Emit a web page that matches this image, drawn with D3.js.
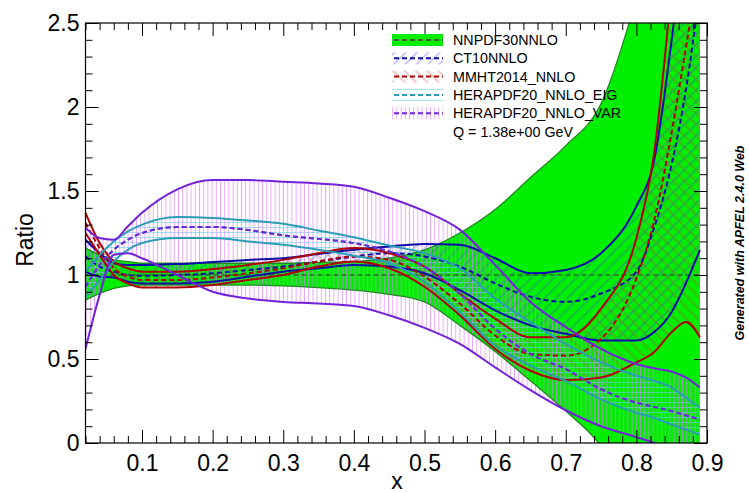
<!DOCTYPE html>
<html><head><meta charset="utf-8">
<script src="https://cdn.jsdelivr.net/npm/d3@7"></script>
<style>body{margin:0;background:#fff}svg{display:block}text{font-family:"Liberation Sans",Arial,Helvetica,sans-serif}</style>
</head><body><svg id="c" width="749" height="493"></svg>
<script>
// ---------------- data ----------------
const xs       = [0.02,0.04,0.06,0.08,0.1,0.15,0.2,0.25,0.3,0.35,0.4,0.45,0.5,0.55,0.6,0.65,0.7,0.75,0.8,0.825,0.85,0.87,0.89];
const nnpdfUp  = [1.16,1.12,1.09,1.08,1.07,1.07,1.07,1.07,1.07,1.075,1.08,1.10,1.15,1.25,1.39,1.58,1.77,2.02,2.65,3.05,3.6,4.0,4.5];
const nnpdfCen = [1,1,1,1,1,1,1,1,1,1,1,1,1,1,1,1,1,1,1,1,1,1,1];
const nnpdfLo  = [0.85,0.89,0.92,0.935,0.94,0.94,0.94,0.94,0.935,0.925,0.91,0.885,0.84,0.70,0.545,0.37,0.19,-0.02,-0.4,-0.6,-0.8,-1.0,-1.2];
const ct10Up   = [1.21,1.13,1.07,1.06,1.06,1.065,1.077,1.09,1.10,1.125,1.15,1.17,1.185,1.18,1.10,1.01,1.03,1.13,1.41,1.68,2.4,3.1,3.8];
const ct10Cen  = [1.11,1.05,1.02,1.0,0.995,1.0,1.01,1.03,1.05,1.08,1.11,1.13,1.11,1.05,0.95,0.87,0.84,0.89,1.02,1.28,1.66,2.1,2.7];
const ct10Lo   = [1.02,0.99,0.985,0.96,0.95,0.95,0.96,0.99,1.02,1.04,1.06,1.05,1.01,0.91,0.79,0.70,0.65,0.61,0.61,0.66,0.78,0.95,1.15];
const mmhtUp   = [1.37,1.19,1.08,1.04,1.02,1.02,1.035,1.06,1.09,1.13,1.16,1.13,1.05,0.89,0.74,0.63,0.63,0.80,1.22,1.72,2.7,3.5,4.3];
const mmhtCen  = [1.31,1.16,1.04,0.99,0.97,0.97,0.985,1.01,1.04,1.08,1.11,1.09,0.99,0.83,0.64,0.53,0.52,0.62,0.98,1.32,1.85,2.35,2.85];
const mmhtLo   = [1.25,1.12,1.0,0.95,0.925,0.925,0.94,0.97,1.0,1.05,1.08,1.04,0.93,0.76,0.56,0.43,0.375,0.39,0.48,0.54,0.66,0.72,0.63];
const eigUp    = [1.02,1.12,1.20,1.26,1.30,1.345,1.34,1.325,1.305,1.265,1.225,1.175,1.13,1.04,0.86,0.72,0.59,0.48,0.40,0.37,0.33,0.27,0.21];
const heraCen  = [0.93,1.06,1.15,1.21,1.25,1.285,1.286,1.268,1.236,1.215,1.19,1.14,1.05,0.89,0.68,0.53,0.44,0.32,0.24,0.215,0.19,0.165,0.14];
const eigLo    = [0.87,0.97,1.08,1.15,1.19,1.22,1.22,1.20,1.18,1.15,1.115,1.07,0.96,0.78,0.58,0.46,0.37,0.26,0.18,0.15,0.11,0.08,0.05];
const varUp    = [1.28,1.22,1.21,1.29,1.37,1.51,1.565,1.565,1.555,1.545,1.525,1.46,1.38,1.27,1.06,0.84,0.69,0.56,0.47,0.445,0.425,0.39,0.33];
const varLo    = [0.56,0.88,1.12,1.13,1.10,1.0,0.90,0.86,0.84,0.83,0.815,0.76,0.685,0.59,0.45,0.315,0.195,0.10,0.035,0.0,-0.04,-0.07,-0.1];

const setNames   = ["NNPDF30NNLO","CT10NNLO","MMHT2014_NNLO","HERAPDF20_NNLO_EIG","HERAPDF20_NNLO_VAR"];
const scaleLabel = "Q = 1.38e+00 GeV";
const xMajor     = [0.1,0.2,0.3,0.4,0.5,0.6,0.7,0.8,0.9];
const xMinor     = [0.02,0.04,0.06,0.08,0.12,0.14,0.16,0.18,0.22,0.24,0.26,0.28,0.32,0.34,0.36,0.38,0.42,0.44,0.46,0.48,0.52,0.54,0.56,0.58,0.62,0.64,0.66,0.68,0.72,0.74,0.76,0.78,0.82,0.84,0.86,0.88];
const yMajor     = [0,0.5,1,1.5,2,2.5];
const yMinor     = [0.1,0.2,0.3,0.4,0.6,0.7,0.8,0.9,1.1,1.2,1.3,1.4,1.6,1.7,1.8,1.9,2.1,2.2,2.3,2.4];

// ---------------- layout ----------------
const M = {l:85.5, r:707, t:23, b:443};
const x = d3.scaleLinear().domain([0.02,0.9]).range([M.l,M.r]);
const y = d3.scaleLinear().domain([0,2.5]).range([M.b,M.t]);
const svg = d3.select("#c");
const defs = svg.append("defs");
defs.append("clipPath").attr("id","clip").append("rect")
  .attr("x",M.l).attr("y",M.t).attr("width",M.r-M.l).attr("height",M.b-M.t);

function hatch(id, angle, sp, color, op, sw){
  const p = defs.append("pattern").attr("id",id).attr("patternUnits","userSpaceOnUse")
    .attr("width",sp).attr("height",sp).attr("patternTransform",`rotate(${angle})`);
  p.append("line").attr("x1",sp/2).attr("y1",-1).attr("x2",sp/2).attr("y2",sp+1)
    .attr("stroke",color).attr("stroke-width",sw).attr("stroke-opacity",op);
}
hatch("hCT",45,8,"#3a4ee0",0.6,1);
hatch("hMM",-45,8,"#d23a3a",0.55,1);
hatch("hEIG",90,5,"#5fd3e8",0.6,1);
hatch("hVAR",0,4.2,"#d77cff",0.65,1);

const sets = [
  {name:setNames[0], up:nnpdfUp, cen:nnpdfCen, lo:nnpdfLo, line:"#1f8a1f", cenCol:"#2d6b2d", fill:"#00ee00", edgeW:1.3},
  {name:setNames[1], up:ct10Up, cen:ct10Cen, lo:ct10Lo, line:"#0c0ca8", cenCol:"#0c0ca8", fill:"url(#hCT)", edgeW:2},
  {name:setNames[2], up:mmhtUp, cen:mmhtCen, lo:mmhtLo, line:"#b00000", cenCol:"#b00000", fill:"url(#hMM)", edgeW:2},
  {name:setNames[3], up:eigUp, cen:heraCen, lo:eigLo, line:"#2b9db5", cenCol:"#2b9db5", fill:"url(#hEIG)", edgeW:2},
  {name:setNames[4], up:varUp, cen:heraCen, lo:varLo, line:"#7421dc", cenCol:"#7421dc", fill:"url(#hVAR)", edgeW:2}
];

const plot = svg.append("g").attr("clip-path","url(#clip)");
const curve = d3.curveMonotoneX;
sets.forEach(s=>{
  const area = d3.area().curve(curve).x((d,i)=>x(xs[i])).y0((d,i)=>y(s.lo[i])).y1((d,i)=>y(s.up[i]));
  plot.append("path").datum(xs).attr("d",area).attr("fill",s.fill).attr("stroke","none");
});
sets.forEach(s=>{
  const ln = arr => d3.line().curve(curve).x((d,i)=>x(xs[i])).y((d,i)=>y(arr[i]))(xs);
  plot.append("path").attr("d",ln(s.up)).attr("fill","none").attr("stroke",s.line).attr("stroke-width",s.edgeW);
  plot.append("path").attr("d",ln(s.lo)).attr("fill","none").attr("stroke",s.line).attr("stroke-width",s.edgeW);
  plot.append("path").attr("d",ln(s.cen)).attr("fill","none").attr("stroke",s.cenCol).attr("stroke-width",2)
    .attr("stroke-dasharray","5,3").attr("stroke-opacity", s===sets[0]?0.75:1);
});

// ---------------- axes ----------------
function styleAxis(g){ g.select(".domain").remove(); g.selectAll("line").attr("stroke","#000").attr("stroke-width",1); }
const fmt = d => d===0?"0":String(d);
svg.append("g").attr("transform",`translate(0,${M.b})`)
  .call(d3.axisBottom(x).tickValues(xMajor).tickSize(-13).tickPadding(12).tickFormat(fmt)).call(styleAxis)
  .selectAll("text").attr("font-size",23).attr("fill","#000");
svg.append("g").attr("transform",`translate(0,${M.b})`)
  .call(d3.axisBottom(x).tickValues(xMinor).tickSize(-7).tickFormat("")).call(styleAxis);
svg.append("g").attr("transform",`translate(0,${M.t})`)
  .call(d3.axisTop(x).tickValues(xMajor).tickSize(-13).tickFormat("")).call(styleAxis);
svg.append("g").attr("transform",`translate(0,${M.t})`)
  .call(d3.axisTop(x).tickValues(xMinor).tickSize(-7).tickFormat("")).call(styleAxis);
svg.append("g").attr("transform",`translate(${M.l},0)`)
  .call(d3.axisLeft(y).tickValues(yMajor).tickSize(-13).tickPadding(6).tickFormat(fmt)).call(styleAxis)
  .selectAll("text").attr("font-size",23).attr("fill","#000");
svg.append("g").attr("transform",`translate(${M.l},0)`)
  .call(d3.axisLeft(y).tickValues(yMinor).tickSize(-7).tickFormat("")).call(styleAxis);
svg.append("g").attr("transform",`translate(${M.r},0)`)
  .call(d3.axisRight(y).tickValues(yMajor).tickSize(-13).tickFormat("")).call(styleAxis);
svg.append("g").attr("transform",`translate(${M.r},0)`)
  .call(d3.axisRight(y).tickValues(yMinor).tickSize(-7).tickFormat("")).call(styleAxis);
svg.append("rect").attr("x",M.l).attr("y",M.t).attr("width",M.r-M.l).attr("height",M.b-M.t)
  .attr("fill","none").attr("stroke","#000").attr("stroke-width",1.2);

svg.append("text").attr("transform","translate(33,240) rotate(-90)").attr("text-anchor","middle")
  .attr("font-size",23).text("Ratio");
svg.append("text").attr("x",397).attr("y",489).attr("text-anchor","middle").attr("font-size",23).text("x");
svg.append("text").attr("transform","translate(744,243) rotate(-90)").attr("text-anchor","middle")
  .attr("font-size",12.5).attr("font-weight","bold").attr("font-style","italic").text("Generated with APFEL 2.4.0 Web");

// ---------------- legend ----------------
const lg = svg.append("g");
const rowY = i => 40 + i*18.3;
sets.forEach((s,i)=>{
  const cy = rowY(i);
  if(i===3){
    lg.append("rect").attr("x",392).attr("y",cy-6).attr("width",51).attr("height",12).attr("fill","none");
    [cy-5.5,cy+5.5].forEach(yy=>lg.append("line").attr("x1",392).attr("x2",443).attr("y1",yy).attr("y2",yy)
      .attr("stroke","#5fd3e8").attr("stroke-opacity",0.6));
  } else {
    lg.append("rect").attr("x",392).attr("y",cy-6).attr("width",51).attr("height",12).attr("fill",s.fill);
  }
  lg.append("line").attr("x1",394).attr("x2",443).attr("y1",cy).attr("y2",cy)
    .attr("stroke",s.cenCol).attr("stroke-width",2).attr("stroke-dasharray","5,3");
  lg.append("text").attr("x",453).attr("y",cy+5).attr("font-size",14.3).text(s.name);
});
lg.append("text").attr("x",453).attr("y",rowY(5)+5).attr("font-size",14.3).text(scaleLabel);
</script></body></html>
